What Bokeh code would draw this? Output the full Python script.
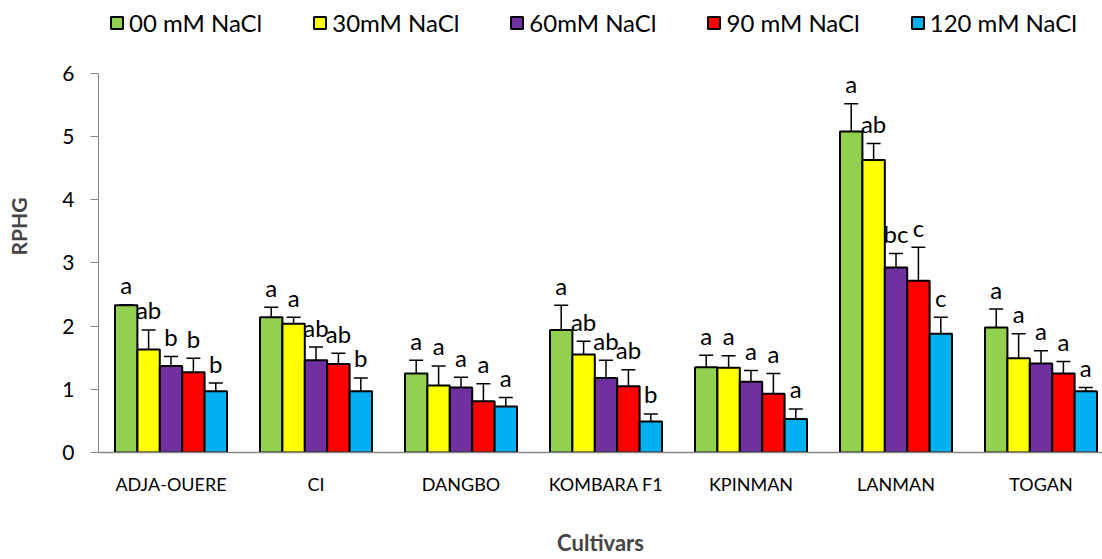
from bokeh.plotting import figure
from bokeh.models import (Range1d, FixedTicker, ColumnDataSource, Whisker, TeeHead,
                          Legend, LegendItem)
from bokeh.core.properties import value
from bokeh.embed import file_html
from bokeh.resources import INLINE

cultivars = ["ADJA-OUERE", "CI", "DANGBO", "KOMBARA F1", "KPINMAN", "LANMAN", "TOGAN"]
treatments = ["00 mM NaCl", "30mM NaCl", "60mM NaCl", "90 mM NaCl", "120 mM NaCl"]
colors = ["#92D050", "#FFFF00", "#7030A0", "#FF0000", "#00B0F0"]

rphg_00 = [2.33, 2.14, 1.25, 1.94, 1.35, 5.08, 1.98]
rphg_30 = [1.63, 2.04, 1.06, 1.55, 1.34, 4.63, 1.49]
rphg_60 = [1.37, 1.46, 1.03, 1.18, 1.12, 2.93, 1.41]
rphg_90 = [1.27, 1.40, 0.81, 1.05, 0.93, 2.72, 1.25]
rphg_120 = [0.97, 0.97, 0.73, 0.49, 0.53, 1.88, 0.97]

err_00 = [0.01, 0.16, 0.21, 0.39, 0.19, 0.44, 0.29]
err_30 = [0.31, 0.10, 0.31, 0.21, 0.19, 0.26, 0.39]
err_60 = [0.15, 0.21, 0.16, 0.28, 0.18, 0.22, 0.20]
err_90 = [0.22, 0.17, 0.28, 0.26, 0.32, 0.53, 0.19]
err_120 = [0.13, 0.21, 0.14, 0.12, 0.16, 0.26, 0.06]

let_00 = ["a", "a", "a", "a", "a", "a", "a"]
let_30 = ["ab", "a", "a", "ab", "a", "ab", "a"]
let_60 = ["b", "ab", "a", "ab", "a", "bc", "a"]
let_90 = ["b", "ab", "a", "ab", "a", "c", "a"]
let_120 = ["b", "b", "a", "b", "a", "c", "a"]

y_ticks = [0, 1, 2, 3, 4, 5, 6]

series = [rphg_00, rphg_30, rphg_60, rphg_90, rphg_120]
errors = [err_00, err_30, err_60, err_90, err_120]
letters = [let_00, let_30, let_60, let_90, let_120]

FONT = "Lato"
n = len(cultivars)
bw = 0.1545

p = figure(width=1102, height=559, output_backend="svg", toolbar_location=None,
           x_range=Range1d(0, 6.924), y_range=Range1d(0, 7.155),
           min_border_left=98, min_border_right=0, min_border_top=0, min_border_bottom=107)
p.outline_line_color = None
p.xgrid.visible = False
p.ygrid.visible = False

items = []
for j, (vals, errs, lets) in enumerate(zip(series, errors, letters)):
    xs = [i + 0.5 + (j - 2) * bw for i in range(n)]
    src = ColumnDataSource(dict(x=xs, top=vals,
                                upper=[v + e for v, e in zip(vals, errs)],
                                lower=[v - e for v, e in zip(vals, errs)],
                                lab=lets))
    r = p.vbar(x="x", top="top", width=bw, bottom=0, source=src,
               fill_color=colors[j], line_color="black", line_width=2)
    items.append(LegendItem(label=treatments[j], renderers=[r]))
    w = Whisker(base="x", upper="upper", lower="lower", source=src,
                line_color="black", line_width=1.5,
                upper_head=TeeHead(size=14, line_color="black", line_width=1.5),
                lower_head=TeeHead(size=14, line_color="black", line_width=1.5))
    p.add_layout(w)
    p.text(x="x", y="upper", text="lab", source=src, text_align="center",
           text_baseline="alphabetic", y_offset=-20, text_font=value(FONT),
           text_font_size="24px", text_color="black")

legend = Legend(items=items, orientation="horizontal", location=(11, 415),
                glyph_width=15, glyph_height=15, label_standoff=5, spacing=50,
                padding=0, margin=0, border_line_color=None, background_fill_alpha=0,
                label_text_font=FONT, label_text_font_size="24px", label_text_color="black")
p.add_layout(legend, "center")

p.xaxis.ticker = FixedTicker(ticks=[i + 0.5 for i in range(n)])
p.xaxis.major_label_overrides = {i + 0.5: c for i, c in enumerate(cultivars)}
p.xaxis.major_tick_line_color = None
p.xaxis.minor_tick_line_color = None
p.xaxis.axis_line_color = "#868686"
p.xaxis.axis_line_width = 1.5
p.xaxis.major_label_text_font = FONT
p.xaxis.major_label_text_font_size = "18px"
p.xaxis.major_label_text_color = "black"
p.xaxis.major_label_standoff = 14
p.xaxis.axis_label = "Cultivars"
p.xaxis.axis_label_text_font = FONT
p.xaxis.axis_label_text_font_style = "bold"
p.xaxis.axis_label_text_font_size = "22px"
p.xaxis.axis_label_standoff = 31

p.yaxis.bounds = (0, 6)
p.yaxis.ticker = FixedTicker(ticks=y_ticks)
p.yaxis.minor_tick_line_color = None
p.yaxis.major_tick_out = 8
p.yaxis.major_tick_in = 0
p.yaxis.major_tick_line_color = "#868686"
p.yaxis.axis_line_color = "#868686"
p.yaxis.major_label_text_font = FONT
p.yaxis.major_label_text_font_size = "21px"
p.yaxis.major_label_text_color = "black"
p.yaxis.major_label_standoff = 16
p.yaxis.axis_label = "RPHG"
p.yaxis.axis_label_text_font = FONT
p.yaxis.axis_label_text_font_style = "bold"
p.yaxis.axis_label_text_font_size = "21px"
p.yaxis.axis_label_standoff = 28

open("out.html", "w").write(file_html(p, INLINE))
